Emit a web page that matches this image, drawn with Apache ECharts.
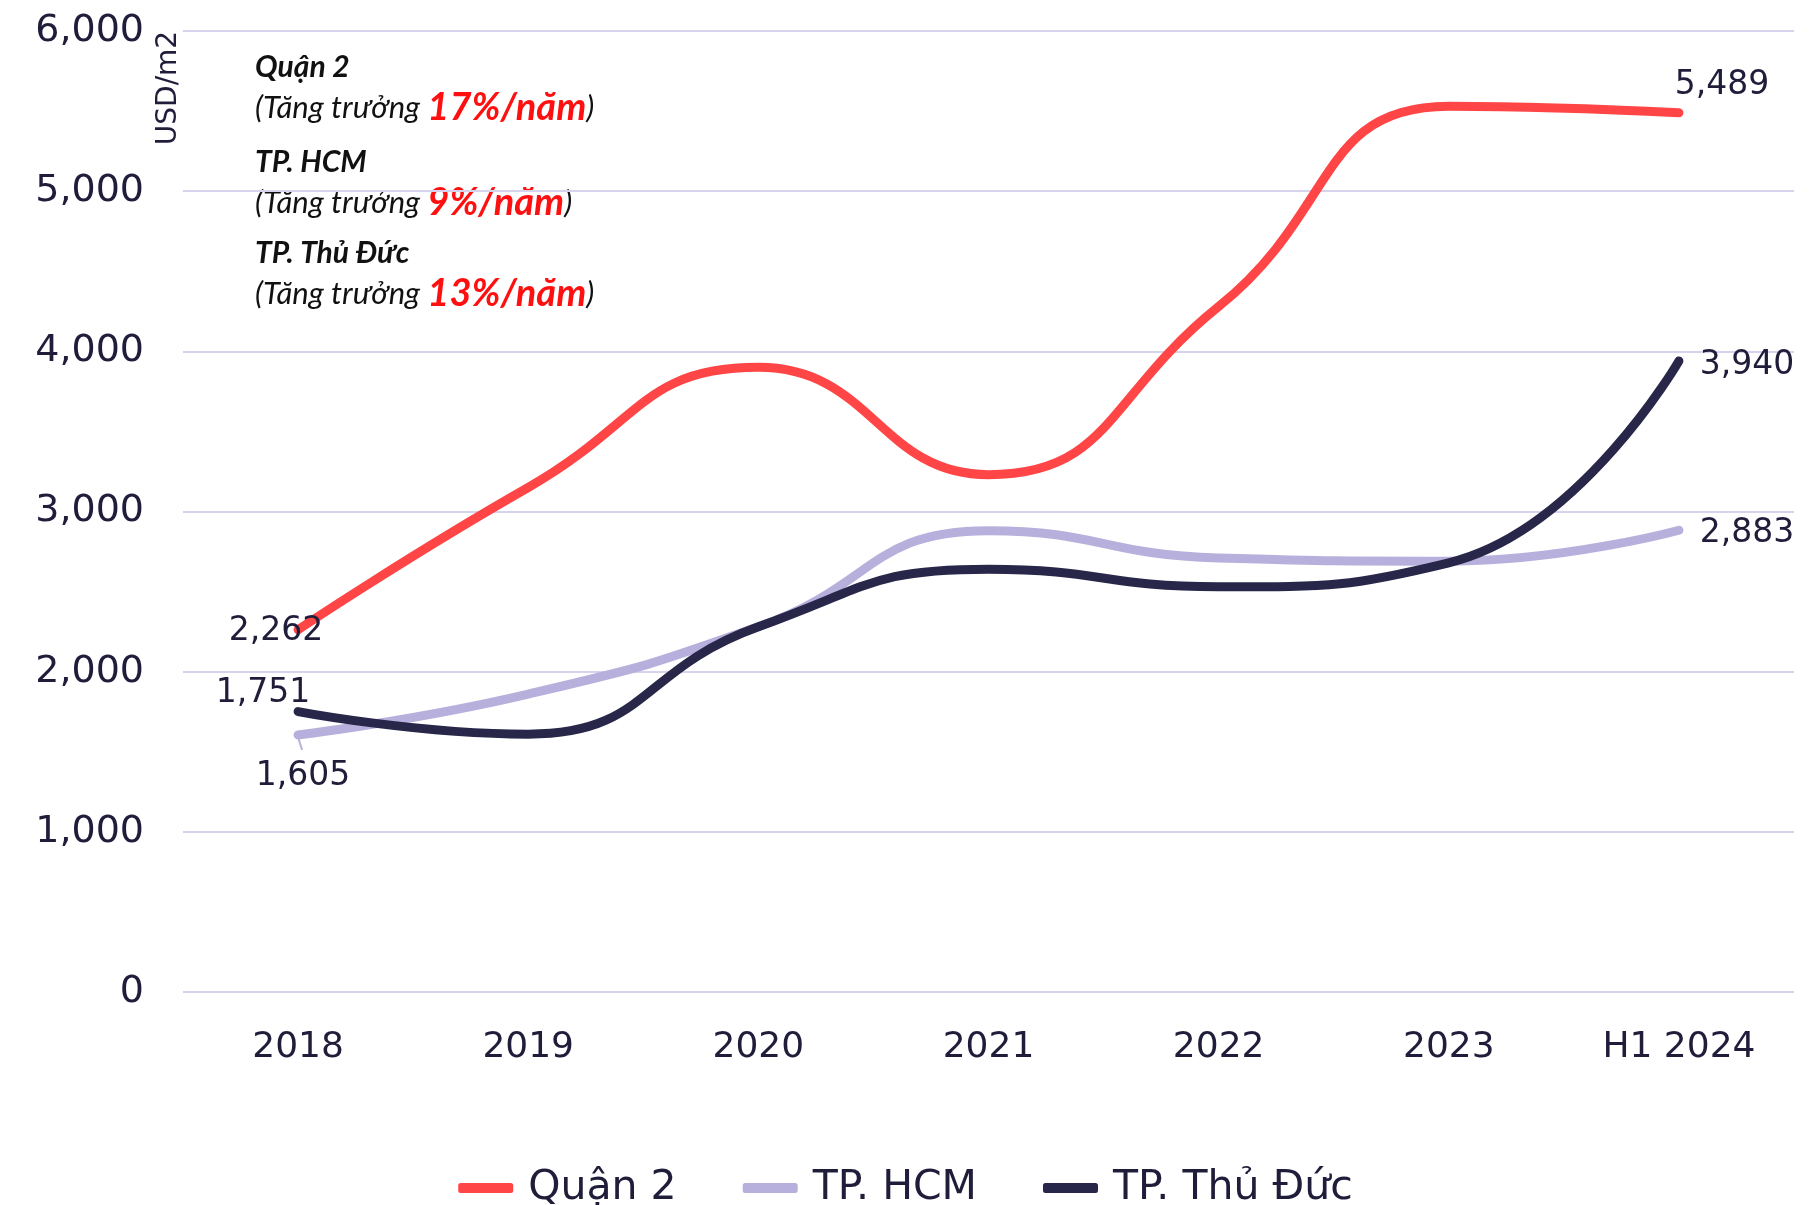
<!DOCTYPE html>
<html>
<head>
<meta charset="utf-8">
<script src="https://cdn.jsdelivr.net/npm/echarts@6/dist/echarts.min.js"></script>
<style>
html,body{margin:0;padding:0;background:#fff;}
#chart{width:1811px;height:1205px;}
</style>
</head>
<body>
<div id="chart"></div>
<script>
// ---- data ----
const categories = ['2018', '2019', '2020', '2021', '2022', '2023', 'H1 2024'];
const quan2 = [2262, 3150, 3900, 3230, 4280, 5530, 5489];
const tpHCM = [1605, 1860, 2280, 2880, 2710, 2690, 2883];
const thuDuc = [1751, 1610, 2280, 2640, 2530, 2680, 3940];
const seriesNames = ['Quận 2', 'TP. HCM', 'TP. Thủ Đức'];
const growthRates = ['17%/năm', '9%/năm', '13%/năm'];
const yTicks = [0, 1000, 2000, 3000, 4000, 5000, 6000];
const unitLabel = 'USD/m2';

const TEXT = '#1f1d3a';
const COLORS = ['#ff4545', '#b8b0dc', '#28274a'];
const FONT = 'DejaVu Sans';
const ANN_FONT = 'Lato';

function fmt(v) { return v.toLocaleString('en-US'); }

// label offsets for first/last points (styling only)
const labelOffsets = [
  [[-22, 2], [43, -27]],
  [[5, 41], [68, 3]],
  [[-35, -18], [68, 4]]
];

function buildData(arr, si) {
  return arr.map((v, i) => {
    const first = i === 0, last = i === arr.length - 1;
    const item = { value: v };
    if (first || last) {
      item.label = {
        show: true,
        position: 'inside',
        offset: labelOffsets[si][first ? 0 : 1],
        formatter: () => fmt(v)
      };
    }
    return item;
  });
}

const allSeries = [quan2, tpHCM, thuDuc].map((arr, si) => ({
  name: seriesNames[si],
  type: 'line',
  smooth: 0.5,
  data: buildData(arr, si),
  symbol: 'circle',
  symbolSize: 1,
  itemStyle: { color: COLORS[si] },
  lineStyle: { color: COLORS[si], width: 9, cap: 'round', join: 'round' },
  label: {
    show: false,
    color: TEXT,
    fontFamily: FONT,
    fontSize: 33
  },
  emphasis: { disabled: true },
  z: si === 0 ? 5 : (si === 2 ? 4 : 3)
}));

const annTop = [67, 162, 253];
const graphics = [];
seriesNames.forEach((n, i) => {
  graphics.push({
    type: 'text', x: 255, y: annTop[i],
    style: { text: n, font: 'italic bold 30px ' + ANN_FONT, fill: '#111', verticalAlign: 'middle' }
  });
  graphics.push({
    type: 'text', x: 255, y: annTop[i] + 41,
    style: {
      text: '{a|(Tăng trưởng }{b|' + growthRates[i] + '}{a|)}',
      verticalAlign: 'middle',
      rich: {
        a: { font: 'italic 31px ' + ANN_FONT, fill: '#111' },
        b: { font: 'italic bold 38px ' + ANN_FONT, fill: '#ff1010' }
      }
    }
  });
});
graphics.push({
  type: 'text', x: 169, y: 88, rotation: Math.PI / 2,
  style: { text: unitLabel, font: '28px ' + FONT, fill: TEXT, align: 'center', verticalAlign: 'middle' }
});

const chart = echarts.init(document.getElementById('chart'));
chart.setOption({
  animation: false,
  backgroundColor: '#fff',
  grid: { left: 183, right: 17, top: 31, height: 961 },
  legend: {
    top: 1160,
    left: 'center',
    icon: 'roundRect',
    itemWidth: 55,
    itemHeight: 10,
    itemGap: 66,
    textStyle: { color: TEXT, fontFamily: FONT, fontSize: 41, lineHeight: 46, padding: [0, 0, 0, 10] },
    data: seriesNames
  },
  xAxis: {
    type: 'category',
    data: categories,
    boundaryGap: true,
    axisLine: { show: false },
    axisTick: { show: false },
    axisLabel: { color: TEXT, fontFamily: FONT, fontSize: 36, margin: 38 }
  },
  yAxis: {
    type: 'value',
    min: 0, max: 6000, interval: 1000,
    axisLine: { show: false },
    axisTick: { show: false },
    splitLine: { lineStyle: { color: '#d6d3ec', width: 2 } },
    axisLabel: {
      color: TEXT, fontFamily: FONT, fontSize: 38, margin: 39,
      formatter: v => yTicks.includes(v) ? fmt(v) : ''
    }
  },
  graphic: graphics,
  series: allSeries
});

// small guide tick under the first TP. HCM point, anchored via the chart's scales
const p = chart.convertToPixel({ gridIndex: 0 }, [categories[0], tpHCM[0]]);
graphics.push({
  type: 'line', z: 2,
  shape: { x1: p[0], y1: p[1] + 2, x2: p[0] + 4, y2: p[1] + 15 },
  style: { stroke: COLORS[1], lineWidth: 2 }
});
chart.setOption({ graphic: graphics });
</script>
</body>
</html>
